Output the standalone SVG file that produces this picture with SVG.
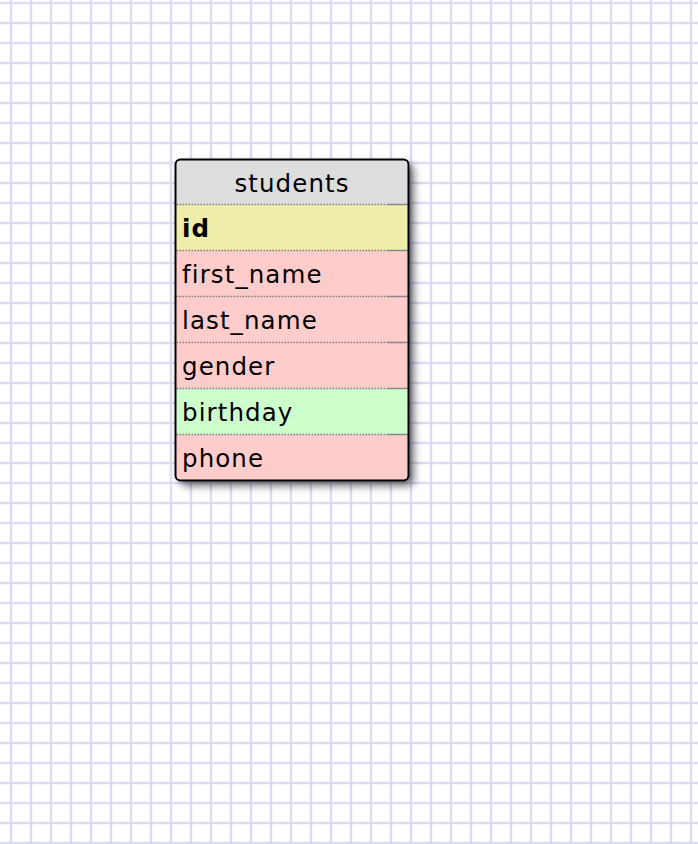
<svg xmlns="http://www.w3.org/2000/svg" width="698" height="844" viewBox="0 0 698 844">
<style>
.t{font-family:"DejaVu Sans","Verdana",sans-serif;font-size:24.5px;letter-spacing:1.1px;fill:#000}
.b{font-weight:bold}
.sep{stroke:#808080;stroke-width:1.6;stroke-dasharray:1.6 1.4;fill:none}
.sepEnd{stroke:#888;stroke-width:1.5;fill:none}
.hdr{fill:#dddddd}
.key{fill:#eeeeaa}
.pink{fill:#ffcccc}
.green{fill:#ccffcc}
</style>
<defs>
<pattern id="grid" width="20" height="20" patternUnits="userSpaceOnUse">
<rect width="20" height="20" fill="#ffffff"/>
<path d="M11 0V20M0 3H20" stroke="#eeeefb" stroke-width="3"/>
<path d="M11 0V20M0 3H20" stroke="#d6d6f4" stroke-width="1.5"/>
</pattern>
<filter id="shadow" x="-20%" y="-20%" width="150%" height="150%">
<feDropShadow dx="5" dy="5" stdDeviation="4.5" flood-color="#000" flood-opacity="0.6"/>
</filter>
<clipPath id="tclip">
<rect x="175.5" y="159.5" width="233" height="321" rx="5"/>
</clipPath>
</defs>
<rect width="698" height="844" fill="url(#grid)"/>
<g id="connectors"/>
<g id="students">
<rect x="175.5" y="159.5" width="233" height="321" rx="5" fill="#ffcccc" filter="url(#shadow)"/>
<g clip-path="url(#tclip)">
<rect class="hdr" x="175" y="159" width="234" height="45.5"/>
<rect class="key" x="175" y="204.5" width="234" height="46"/>
<rect class="pink" x="175" y="250.5" width="234" height="46"/>
<rect class="pink" x="175" y="296.5" width="234" height="46"/>
<rect class="pink" x="175" y="342.5" width="234" height="46"/>
<rect class="green" x="175" y="388.5" width="234" height="46"/>
<rect class="pink" x="175" y="434.5" width="234" height="46.5"/>
</g>
<g id="separators">
<path class="sep" d="M176.5 204.5H388M176.5 250.5H388M176.5 296.5H388M176.5 342.5H388M176.5 388.5H388M176.5 434.5H388"/>
<path class="sepEnd" d="M388 204.5H407.5M388 250.5H407.5M388 296.5H407.5M388 342.5H407.5M388 388.5H407.5M388 434.5H407.5"/>
</g>
<text class="t" x="292" y="192" text-anchor="middle">students</text>
<g id="row-id"><text class="t b" x="182" y="237">id</text></g>
<g id="row-first_name"><text class="t" x="182" y="283">first_name</text></g>
<g id="row-last_name"><text class="t" x="182" y="329">last_name</text></g>
<g id="row-gender"><text class="t" x="182" y="375">gender</text></g>
<g id="row-birthday"><text class="t" x="182" y="421">birthday</text></g>
<g id="row-phone"><text class="t" x="182" y="467">phone</text></g>
<rect x="175.5" y="159.5" width="233" height="321" rx="5" fill="none" stroke="#000" stroke-width="2"/>
</g>
</svg>
